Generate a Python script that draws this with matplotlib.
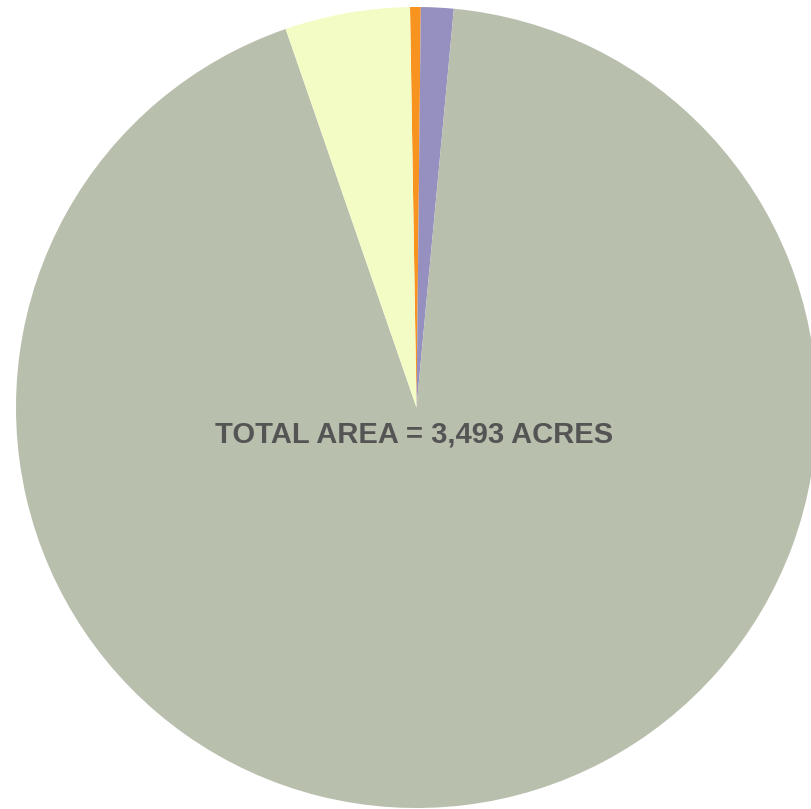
import matplotlib
matplotlib.use("Agg")
import matplotlib.pyplot as plt

labels = ["Orange", "Purple", "Main", "Yellow"]
acres = [15, 46, 3256, 176]
colors = ["#f7931e", "#9590c0", "#b8bfad", "#f4fcc6"]
total_label = "TOTAL AREA = 3,493 ACRES"

W, H = 812, 809
fig = plt.figure(figsize=(W / 100, H / 100), dpi=100)
cx, cy, r = 416.5, 407.5, 400.5
ax = fig.add_axes([(cx - r) / W, (H - cy - r) / H, 2 * r / W, 2 * r / H])
ax.pie(acres, colors=colors, startangle=90.93, counterclock=False,
       radius=1, wedgeprops=dict(linewidth=0))
ax.set_xlim(-1, 1)
ax.set_ylim(-1, 1)
ax.set_aspect("equal")
ax.axis("off")
ax.text(-0.007, -0.068, total_label, ha="center", va="center",
        fontsize=21, fontweight="bold", color="#545454",
        family=["Liberation Sans", "DejaVu Sans"])
fig.savefig("out.png", dpi=100)
